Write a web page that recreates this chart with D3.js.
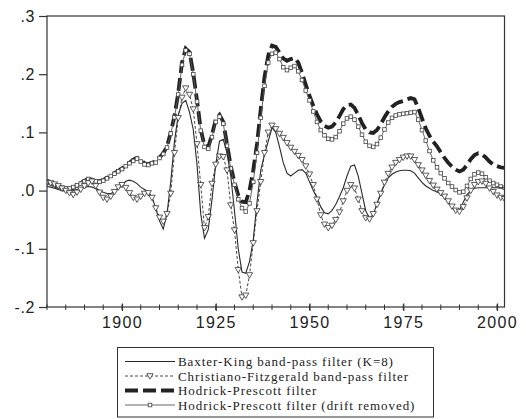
<!DOCTYPE html>
<html><head><meta charset="utf-8">
<script src="https://cdn.jsdelivr.net/npm/d3@7/dist/d3.min.js"></script>
<style>body{margin:0;background:#fff}svg{display:block}</style>
</head><body>
<svg id="c" width="526" height="419"></svg>
<script>
const startYear = 1880;
const xTickYears = [1900, 1925, 1950, 1975, 2000];
const yTickValues = [0.3, 0.2, 0.1, 0.0, -0.1, -0.2];
const yTickLabels = [".3", ".2", ".1", ".0", "-.1", "-.2"];
const seriesNames = [
  "Baxter-King band-pass filter (K=8)",
  "Christiano-Fitzgerald band-pass filter",
  "Hodrick-Prescott filter",
  "Hodrick-Prescott filter (drift removed)"
];
const bk = [
 0.007,0.006,0.004,0.002,0.000,-0.001,-0.001,0.000,0.002,0.004,
 0.006,0.007,0.006,0.003,0.000,-0.003,-0.005,-0.005,-0.002,0.003,
 0.009,0.016,0.018,0.016,0.012,0.006,0.002,-0.002,-0.012,-0.030,
 -0.052,-0.066,-0.040,0.015,0.085,0.130,0.150,0.155,0.135,0.105,
 0.045,-0.040,-0.082,-0.067,-0.015,0.045,0.085,0.088,0.065,0.025,
 -0.035,-0.100,-0.140,-0.142,-0.122,-0.085,-0.020,0.035,0.062,0.085,
 0.108,0.100,0.075,0.048,0.030,0.025,0.030,0.035,0.036,0.030,
 0.015,0.000,-0.012,-0.028,-0.038,-0.040,-0.034,-0.024,-0.010,0.005,
 0.025,0.042,0.044,0.025,-0.005,-0.035,-0.047,-0.042,-0.022,-0.005,
 0.010,0.022,0.028,0.032,0.034,0.035,0.035,0.034,0.030,0.022,
 0.014,0.008,0.004,0.000,-0.002,-0.006,-0.012,-0.020,-0.029,-0.035,
 -0.033,-0.020,-0.007,0.000,0.004,0.005,0.005,0.005,0.005,0.005,
 0.005,0.005,0.005
];
const cf = [
 0.014,0.013,0.011,0.008,0.004,0.000,-0.004,-0.007,-0.003,0.002,
 0.008,0.013,0.016,0.008,-0.003,-0.012,-0.015,-0.010,-0.002,0.006,
 0.010,0.005,-0.004,-0.012,-0.015,-0.010,-0.005,-0.004,-0.012,-0.030,
 -0.046,-0.053,-0.040,-0.005,0.065,0.125,0.160,0.176,0.165,0.140,
 0.080,0.010,-0.064,-0.045,0.012,0.045,0.059,0.058,0.035,-0.025,
 -0.068,-0.136,-0.183,-0.180,-0.145,-0.090,-0.035,0.015,0.065,0.100,
 0.112,0.106,0.098,0.091,0.082,0.074,0.067,0.060,0.053,0.042,
 0.028,0.010,-0.015,-0.042,-0.058,-0.064,-0.060,-0.050,-0.037,-0.018,
 0.000,0.010,0.004,-0.015,-0.035,-0.047,-0.049,-0.040,-0.024,-0.005,
 0.014,0.029,0.040,0.048,0.053,0.057,0.059,0.059,0.053,0.044,
 0.035,0.026,0.017,0.009,0.002,-0.004,-0.010,-0.018,-0.027,-0.034,
 -0.036,-0.028,-0.013,0.000,0.010,0.015,0.016,0.012,0.004,-0.002,
 -0.008,-0.012,-0.014
];
const hp = [
 0.015,0.012,0.009,0.006,0.004,0.003,0.003,0.005,0.009,0.013,
 0.017,0.020,0.019,0.017,0.016,0.018,0.022,0.026,0.030,0.034,
 0.038,0.043,0.048,0.053,0.056,0.052,0.047,0.045,0.048,0.050,
 0.057,0.064,0.076,0.100,0.128,0.168,0.220,0.244,0.238,0.202,
 0.155,0.105,0.077,0.075,0.096,0.122,0.130,0.118,0.080,0.042,
 0.014,-0.008,-0.019,-0.020,0.000,0.035,0.080,0.140,0.195,0.232,
 0.249,0.247,0.237,0.227,0.223,0.226,0.228,0.220,0.202,0.182,
 0.163,0.146,0.131,0.119,0.111,0.108,0.110,0.117,0.128,0.140,
 0.147,0.148,0.142,0.130,0.116,0.105,0.100,0.099,0.104,0.114,
 0.126,0.136,0.144,0.149,0.152,0.154,0.157,0.159,0.157,0.142,
 0.124,0.107,0.094,0.084,0.076,0.066,0.056,0.048,0.041,0.036,
 0.033,0.036,0.044,0.054,0.061,0.064,0.062,0.057,0.050,0.045,
 0.042,0.040,0.039
];
const hpd = [
 0.016,0.013,0.010,0.007,0.005,0.004,0.004,0.006,0.009,0.012,
 0.016,0.020,0.018,0.016,0.015,0.017,0.021,0.025,0.029,0.033,
 0.037,0.042,0.047,0.051,0.055,0.050,0.045,0.044,0.047,0.048,
 0.056,0.063,0.074,0.098,0.126,0.165,0.216,0.241,0.235,0.200,
 0.153,0.103,0.075,0.072,0.092,0.118,0.127,0.115,0.077,0.038,
 0.010,-0.015,-0.030,-0.036,-0.022,0.015,0.065,0.125,0.180,0.220,
 0.235,0.237,0.226,0.212,0.207,0.211,0.214,0.205,0.190,0.172,
 0.155,0.136,0.118,0.104,0.095,0.089,0.088,0.092,0.102,0.115,
 0.124,0.127,0.122,0.110,0.096,0.084,0.077,0.075,0.080,0.091,
 0.105,0.117,0.125,0.129,0.131,0.132,0.133,0.134,0.135,0.122,
 0.104,0.086,0.068,0.052,0.040,0.030,0.021,0.013,0.007,0.001,
 -0.003,-0.002,0.008,0.020,0.028,0.031,0.029,0.023,0.017,0.013,
 0.010,0.007,0.005
];

const svg = d3.select("#c");
const L = 47, R = 504.5, T = 16, B = 307;
const x = d3.scaleLinear().domain([1880, 2002]).range([L, R]);
const y = d3.scaleLinear().domain([-0.2, 0.3]).range([B, T]);
const ink = "#2a2a2a";
const toPts = arr => arr.map((v, i) => [startYear + i, v]);
const line = d3.line().x(d => x(d[0])).y(d => y(d[1]));

svg.append("defs").append("clipPath").attr("id", "clip")
  .append("rect").attr("x", L).attr("y", T).attr("width", R - L).attr("height", B - T);

const plot = svg.append("g").attr("clip-path", "url(#clip)");

// HP (thick dashed)
plot.append("path").attr("d", line(toPts(hp))).attr("fill", "none")
  .attr("stroke", "#222").attr("stroke-width", 3.8).attr("stroke-dasharray", "13,5");
// HP drift removed (thin line + squares)
plot.append("path").attr("d", line(toPts(hpd))).attr("fill", "none")
  .attr("stroke", "#555").attr("stroke-width", 0.9);
plot.selectAll("rect.sq").data(toPts(hpd)).enter().append("rect")
  .attr("x", d => x(d[0]) - 1.8).attr("y", d => y(d[1]) - 1.8)
  .attr("width", 3.6).attr("height", 3.6)
  .attr("fill", "#fff").attr("stroke", "#444").attr("stroke-width", 0.8);
// BK solid
plot.append("path").attr("d", line(toPts(bk))).attr("fill", "none")
  .attr("stroke", ink).attr("stroke-width", 1.1);
// CF dashed with triangles
plot.append("path").attr("d", line(toPts(cf))).attr("fill", "none")
  .attr("stroke", "#333").attr("stroke-width", 0.9).attr("stroke-dasharray", "3,2");
const tri = d3.symbol().type(d3.symbolTriangle).size(17);
plot.selectAll("path.tri").data(toPts(cf)).enter().append("path")
  .attr("d", tri).attr("transform", d => `translate(${x(d[0])},${y(d[1]) - 0.5}) rotate(180)`)
  .attr("fill", "#fff").attr("stroke", "#333").attr("stroke-width", 0.8);

// frame
svg.append("rect").attr("x", L).attr("y", T).attr("width", R - L).attr("height", B - T)
  .attr("fill", "none").attr("stroke", "#333").attr("stroke-width", 1.2);

// Y axis
const yAxis = d3.axisLeft(y).tickValues(yTickValues).tickSize(8)
  .tickFormat((d, i) => yTickLabels[i]);
const gy = svg.append("g").attr("transform", `translate(${L},0)`).call(yAxis);
gy.select(".domain").remove();
gy.selectAll(".tick line").attr("stroke", "#333").attr("stroke-width", 1.2);
gy.selectAll(".tick text").attr("x", -12).attr("fill", "#222")
  .style("font-family", "'Liberation Sans', Arial, sans-serif").style("font-size", "16px")
  .style("letter-spacing", "0.6px");

// X axis minor ticks
const minorYears = d3.range(1880, 2003, 5);
const gxm = svg.append("g").attr("transform", `translate(0,${B})`);
gxm.selectAll("line").data(minorYears).enter().append("line")
  .attr("x1", d => x(d)).attr("x2", d => x(d)).attr("y1", -2.5).attr("y2", 3)
  .attr("stroke", "#333").attr("stroke-width", 1);
const xAxis = d3.axisBottom(x).tickValues(xTickYears).tickSize(4).tickFormat(d3.format("d"));
const gx = svg.append("g").attr("transform", `translate(0,${B})`).call(xAxis);
gx.select(".domain").remove();
gx.selectAll(".tick line").attr("y1", -3.5).attr("stroke", "#333").attr("stroke-width", 1.2);
gx.selectAll(".tick text").attr("y", 10).attr("fill", "#222")
  .style("font-family", "'Liberation Sans', Arial, sans-serif").style("font-size", "16px")
  .style("letter-spacing", "1.3px");

// Legend
const lg = svg.append("g");
lg.append("rect").attr("x", 117.5).attr("y", 347.5).attr("width", 316).attr("height", 69.5)
  .attr("fill", "#fff").attr("stroke", "#333").attr("stroke-width", 1);
const rowsY = [361.5, 376, 390.5, 405];
const lx1 = 125, lx2 = 175;
// BK
lg.append("line").attr("x1", lx1).attr("x2", lx2).attr("y1", rowsY[0]).attr("y2", rowsY[0])
  .attr("stroke", ink).attr("stroke-width", 1.1);
// CF
lg.append("line").attr("x1", lx1).attr("x2", lx2).attr("y1", rowsY[1]).attr("y2", rowsY[1])
  .attr("stroke", "#333").attr("stroke-width", 0.9).attr("stroke-dasharray", "3,2");
lg.append("path").attr("d", tri).attr("transform", `translate(${(lx1 + lx2) / 2},${rowsY[1] - 0.5}) rotate(180)`)
  .attr("fill", "#fff").attr("stroke", "#333").attr("stroke-width", 0.8);
// HP
lg.append("line").attr("x1", lx1).attr("x2", lx2).attr("y1", rowsY[2]).attr("y2", rowsY[2])
  .attr("stroke", "#222").attr("stroke-width", 3.8).attr("stroke-dasharray", "13,5");
// HPD
lg.append("line").attr("x1", lx1).attr("x2", lx2).attr("y1", rowsY[3]).attr("y2", rowsY[3])
  .attr("stroke", "#555").attr("stroke-width", 0.9);
lg.append("rect").attr("x", (lx1 + lx2) / 2 - 1.8).attr("y", rowsY[3] - 1.8).attr("width", 3.6).attr("height", 3.6)
  .attr("fill", "#fff").attr("stroke", "#444").attr("stroke-width", 0.8);
lg.selectAll("text").data(seriesNames).enter().append("text")
  .attr("x", 178).attr("y", (d, i) => rowsY[i]).attr("dy", "0.35em")
  .attr("fill", "#222")
  .style("font-family", "'Liberation Serif', 'Times New Roman', serif").style("font-size", "13px")
  .style("letter-spacing", "0.95px")
  .text(d => d);
</script>
</body></html>
